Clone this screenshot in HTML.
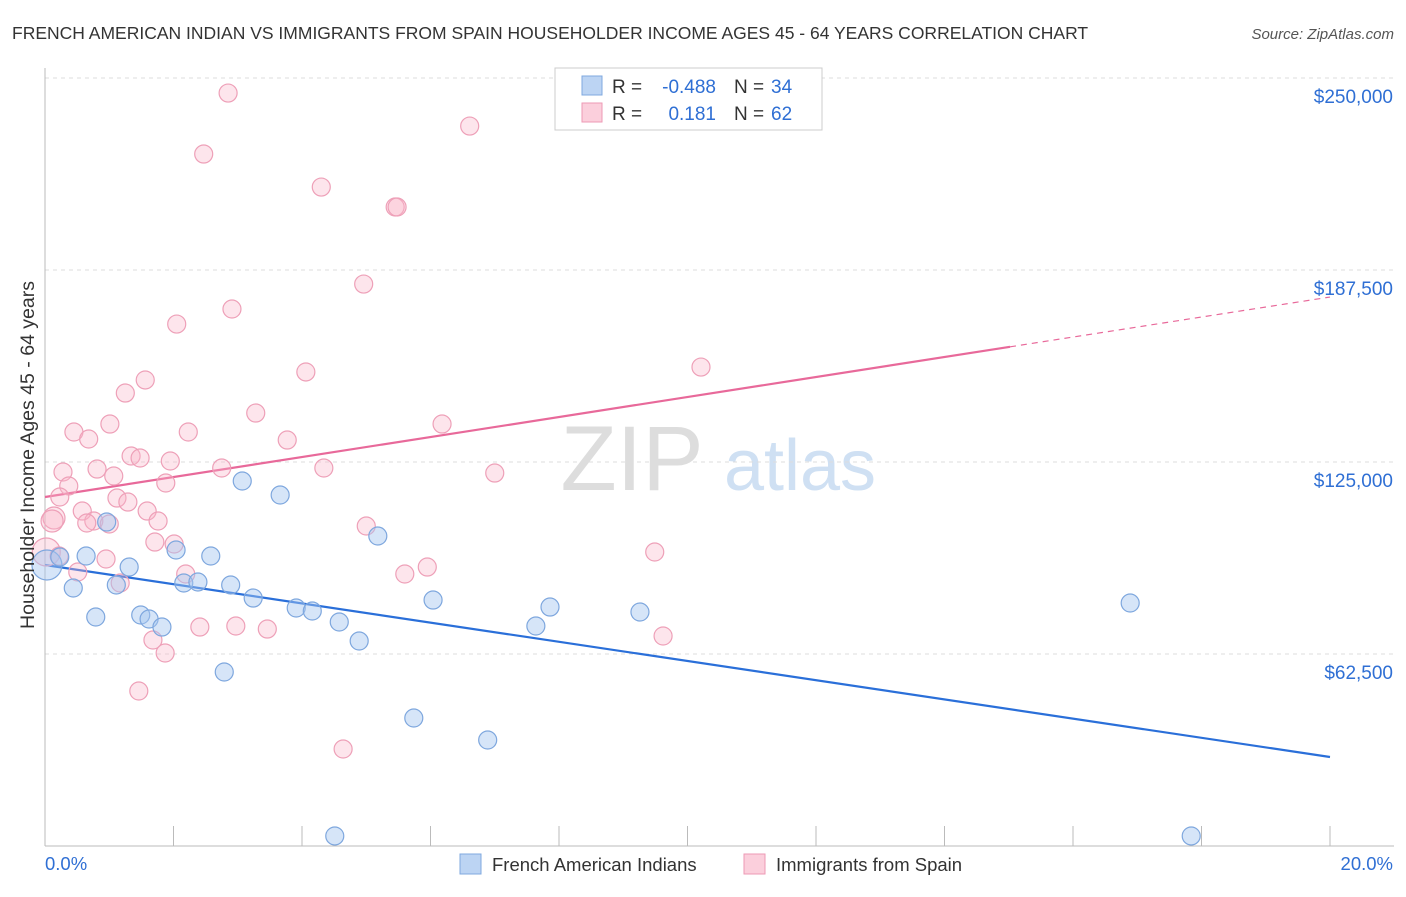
<!DOCTYPE html>
<html><head><meta charset="utf-8"><style>
body{margin:0;background:#fff;font-family:"Liberation Sans",sans-serif;}
svg text{font-family:"Liberation Sans",sans-serif;}
</style></head><body>
<svg id="chart" width="1406" height="892" viewBox="0 0 1406 892" xmlns="http://www.w3.org/2000/svg">
<text x="12" y="39" font-size="17.5" fill="#333">FRENCH AMERICAN INDIAN VS IMMIGRANTS FROM SPAIN HOUSEHOLDER INCOME AGES 45 - 64 YEARS CORRELATION CHART</text>
<text x="1394" y="39" font-size="15" fill="#555" text-anchor="end" font-style="italic">Source: ZipAtlas.com</text>
<g>
<text x="632" y="490" font-size="92" fill="#dddddd" text-anchor="middle" font-family="Liberation Serif">ZIP</text>
<text x="800" y="490" font-size="72" fill="#cfe0f3" text-anchor="middle">atlas</text>
</g>
<g id="grid"></g><g id="axes"></g><g id="lines"></g><g id="points"></g>
<text transform="translate(34,455) rotate(-90)" font-size="19.5" fill="#333" text-anchor="middle">Householder Income Ages 45 - 64 years</text>
<g>
<rect x="555" y="68" width="267" height="62" fill="#fff" stroke="#ccc"/>
<rect x="582" y="76" width="20" height="19" fill="#bcd4f3" stroke="#7fa8df"/>
<rect x="582" y="103" width="20" height="19" fill="#fbcfdc" stroke="#ee9ab5"/>
<text x="612" y="93" font-size="19" fill="#333">R =</text>
<text x="716" y="93" font-size="19" fill="#2f6fd4" text-anchor="end">-0.488</text>
<text x="734" y="93" font-size="19" fill="#333">N =</text>
<text x="771" y="93" font-size="19" fill="#2f6fd4">34</text>
<text x="612" y="120" font-size="19" fill="#333">R =</text>
<text x="716" y="120" font-size="19" fill="#2f6fd4" text-anchor="end">0.181</text>
<text x="734" y="120" font-size="19" fill="#333">N =</text>
<text x="771" y="120" font-size="19" fill="#2f6fd4">62</text>
</g>
<g>
<rect x="460" y="854" width="21" height="20" fill="#bcd4f3" stroke="#7fa8df"/>
<text x="492" y="871" font-size="18.5" fill="#333">French American Indians</text>
<rect x="744" y="854" width="21" height="20" fill="#fbcfdc" stroke="#ee9ab5"/>
<text x="776" y="871" font-size="18.5" fill="#333">Immigrants from Spain</text>
</g>
</svg>
<script>
const blueX=[0.03,0.23,0.44,0.64,0.79,0.96,1.11,1.31,1.49,1.62,1.82,2.04,2.16,2.38,2.58,2.79,2.89,3.07,3.24,3.66,3.91,4.16,4.58,4.51,4.89,5.18,5.74,6.04,6.89,7.64,7.86,9.26,16.89,17.84];
const blueY=[91470,94070,83980,94400,74540,105460,84960,90810,75190,73890,71280,96350,85610,85930,94400,56640,84960,118810,80720,114250,77470,76490,72910,3260,66730,100910,41660,80070,34500,71610,77790,76170,79100,3260];
const pinkX=[2.85,2.47,6.61,4.30,5.45,5.48,4.96,2.91,2.05,4.06,1.56,10.21,1.25,3.28,1.01,0.45,0.68,2.23,6.18,3.77,1.34,1.48,1.95,0.28,0.81,2.75,4.34,7.00,1.07,1.88,0.37,0.23,1.12,1.29,0.58,1.59,0.14,0.11,0.76,0.65,1.76,5.00,1.71,2.01,0.02,0.95,0.22,9.49,5.95,0.51,5.60,2.19,1.17,2.41,2.97,3.46,1.68,9.62,1.87,1.46,4.64,1.00];
const pinkY=[245100,225250,234360,214500,208000,208000,182930,174800,169900,154300,151700,155900,147450,140940,137360,134760,132480,134760,137360,132150,126950,126300,125320,121740,122710,123040,123040,121410,120440,118160,117180,113600,113270,111970,109040,109040,106760,105790,105790,105140,105790,104160,98950,98300,95700,93420,94400,95700,90810,89190,88540,88540,85610,71280,71610,70630,67050,68360,62820,50450,31570,104810];
const yTicks=[62500,125000,187500,250000];
const yTickLabels=["$62,500","$125,000","$187,500","$250,000"];
const xTicks=[0,2,4,6,8,10,12,14,16,18,20];
const blueTrend=[91470,28970];
const pinkTrend=[113600,178700];
const pinkSolidEnd=15.02;

const X=v=>45+v/20*1285;
const Y=v=>846-v/62500*192;
const NS="http://www.w3.org/2000/svg";
function mk(parent,tag,attrs){const e=document.createElementNS(NS,tag);for(const k in attrs)e.setAttribute(k,attrs[k]);document.getElementById(parent).appendChild(e);return e;}

yTicks.forEach((t,i)=>{
 const g=mk('grid','line',{x1:45,x2:1394,y1:Y(t),y2:Y(t),stroke:'#ddd','stroke-dasharray':'4,4'});
 
 
 const l=mk('axes','text',{x:1393,y:Y(t)+25,'font-size':19,fill:'#2f6fd4','text-anchor':'end'});
 l.textContent=yTickLabels[i];
 
 
});
const topGrid=mk('grid','line',{x1:45,x2:1394,y1:78,y2:78,stroke:'#ddd','stroke-dasharray':'4,4'});


const ya=mk('axes','line',{x1:45,x2:45,y1:68,y2:846,stroke:'#bbb'});


const xa=mk('axes','line',{x1:45,x2:1394,y1:846,y2:846,stroke:'#bbb'});


xTicks.forEach(t=>{
 const k=mk('axes','line',{x1:X(t),x2:X(t),y1:826,y2:846,stroke:'#bbb'});
 
 
});
const xl0=mk('axes','text',{x:45,y:870,'font-size':18.5,fill:'#2f6fd4'});xl0.textContent=xTicks[0].toFixed(1)+'%';


const xl1=mk('axes','text',{x:1393,y:870,'font-size':18.5,fill:'#2f6fd4','text-anchor':'end'});xl1.textContent=xTicks[xTicks.length-1].toFixed(1)+'%';



const bl=mk('lines','line',{x1:X(0),y1:Y(blueTrend[0]),x2:X(20),y2:Y(blueTrend[1]),stroke:'#2a6fd9','stroke-width':2.2});


const pm=pinkTrend[0]+(pinkTrend[1]-pinkTrend[0])*pinkSolidEnd/20;
const pl=mk('lines','line',{x1:X(0),y1:Y(pinkTrend[0]),x2:X(pinkSolidEnd),y2:Y(pm),stroke:'#e8699a','stroke-width':2.2});


const pd=mk('lines','line',{x1:X(pinkSolidEnd),y1:Y(pm),x2:X(20),y2:Y(pinkTrend[1]),stroke:'#e8699a','stroke-width':1.2,'stroke-dasharray':'6,5'});



pinkX.forEach((x,i)=>{
 const r=i===44?14:(i===36||i===37?11:9);
 const c=mk('points','circle',{cx:X(x),cy:Y(pinkY[i]),r:r,fill:'rgba(248,180,200,0.35)',stroke:'#eea0b8','stroke-width':1.2});
 
 
});
blueX.forEach((x,i)=>{
 const r=i===0?15:9;
 const c=mk('points','circle',{cx:X(x),cy:Y(blueY[i]),r:r,fill:'rgba(165,198,240,0.45)',stroke:'#7ea7de','stroke-width':1.2});
 
 
});
</script>
</body></html>
